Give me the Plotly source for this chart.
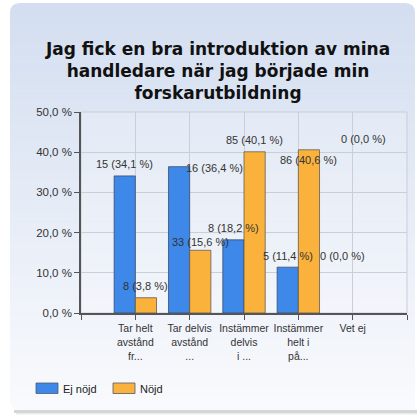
import plotly.graph_objects as go

# ---- data ----
categories = ["Tar helt<br>avstånd<br>fr...", "Tar delvis<br>avstånd<br>...",
              "Instämmer<br>delvis<br>i ...", "Instämmer<br>helt i<br>på...", "Vet ej"]
series_names = ["Ej nöjd", "Nöjd"]
ej_counts = [15, 16, 8, 5, 0]
ej_pct = [34.1, 36.4, 18.2, 11.4, 0.0]
nojd_counts = [8, 33, 85, 86, 0]
nojd_pct = [3.8, 15.6, 40.1, 40.6, 0.0]
y_ticks = [0, 10, 20, 30, 40, 50]
y_tick_labels = ["0,0 %", "10,0 %", "20,0 %", "30,0 %", "40,0 %", "50,0 %"]
title_text = "Jag fick en bra introduktion av mina<br>handledare när jag började min<br>forskarutbildning"

# ---- style ----
W, H = 417, 417
ML, MR, MT, MB = 81, 10, 112, 104
BLUE, ORANGE = "#3d88e9", "#fbb23c"
label_dx = [[0, 35, 0, 0, 0], [0, 0, 0, 0, 0]]
label_dy = [[12, -1, 12, 11, 57], [12, 8, 12, -10, 174]]
bar_off = 10.6

x_idx = list(range(len(categories)))


def px(x):
    return (x - ML) / (W - ML - MR)


def py(y):
    return (H - MB - y) / (H - MT - MB)


def fmt(n, p):
    return f"{n} ({p:.1f} %)".replace(".", ",")


fig = go.Figure()
fig.add_trace(go.Bar(x=x_idx, y=ej_pct, name=series_names[0], marker_color=BLUE,
                     marker_line=dict(color="rgba(55,70,100,0.75)",
                                      width=[1 if v > 0 else 0 for v in ej_pct]),
                     showlegend=False, hoverinfo="skip"))
fig.add_trace(go.Bar(x=x_idx, y=nojd_pct, name=series_names[1], marker_color=ORANGE,
                     marker_line=dict(color="rgba(90,85,80,0.75)",
                                      width=[1 if v > 0 else 0 for v in nojd_pct]),
                     showlegend=False, hoverinfo="skip"))

shapes = []
# gradient card background
top, bot, left, right = 3, 410, 10, 415
c0 = (211, 222, 240)
c1 = (249, 250, 253)
n = 70
for i in range(n):
    y0 = top + (bot - top) * i / n
    y1 = top + (bot - top) * (i + 1) / n + 0.6
    t = i / (n - 1)
    col = tuple(int(round(c0[k] + (c1[k] - c0[k]) * t)) for k in range(3))
    shapes.append(dict(type="rect", xref="paper", yref="paper", x0=px(left), x1=px(right),
                       y0=py(min(y1, bot)), y1=py(y0), fillcolor="rgb(%d,%d,%d)" % col,
                       line_width=0, layer="below"))
# shadow under the card
shapes.append(dict(type="rect", xref="paper", yref="paper", x0=px(left + 4), x1=px(417),
                   y0=py(413), y1=py(410), fillcolor="#d6d6d6", line_width=0, layer="below"))
shapes.append(dict(type="rect", xref="paper", yref="paper", x0=px(left + 6), x1=px(417),
                   y0=py(414.5), y1=py(413), fillcolor="#ebebeb", line_width=0, layer="below"))
# rounded corner masks
r = 10


def corner(cx, cy, sx, sy):
    p = f"M{px(cx)},{py(cy)} L{px(cx + sx * r)},{py(cy)} Q{px(cx)},{py(cy)} {px(cx)},{py(cy + sy * r)} Z"
    return dict(type="path", xref="paper", yref="paper", path=p, fillcolor="white",
                line_width=0, layer="below")


shapes.append(corner(left, top, 1, 1))
shapes.append(corner(right, top, -1, 1))
shapes.append(corner(left, bot, 1, -1))
# plot area lighter overlay
shapes.append(dict(type="rect", xref="paper", yref="paper", x0=0, x1=1, y0=0, y1=1,
                   fillcolor="rgba(255,255,255,0.18)", line=dict(color="#c9ced8", width=1),
                   layer="below"))
# legend swatches
legend_x = [36, 113]
for k, col in enumerate([BLUE, ORANGE]):
    shapes.append(dict(type="rect", xref="paper", yref="paper", x0=px(legend_x[k]),
                       x1=px(legend_x[k] + 22), y0=py(393.5), y1=py(383), fillcolor=col,
                       line=dict(color="rgba(80,90,110,0.8)", width=1)))

annotations = []
for s, (cnts, pcts) in enumerate([(ej_counts, ej_pct), (nojd_counts, nojd_pct)]):
    sign = -1 if s == 0 else 1
    for i in x_idx:
        annotations.append(dict(x=i, y=pcts[i], xref="x", yref="y", text=fmt(cnts[i], pcts[i]),
                                showarrow=False, xshift=sign * bar_off + label_dx[s][i],
                                yshift=label_dy[s][i], yanchor="middle",
                                font=dict(family="Liberation Sans, Arial", size=11, color="#333")))
for k, name in enumerate(series_names):
    annotations.append(dict(x=px(legend_x[k] + 25), y=py(388.5), xref="paper", yref="paper",
                            text=name, showarrow=False, xanchor="left", yanchor="middle",
                            font=dict(family="Liberation Sans, Arial", size=11, color="#222")))

fig.update_layout(
    width=W, height=H,
    margin=dict(l=ML, r=MR, t=MT, b=MB, pad=0),
    paper_bgcolor="white", plot_bgcolor="rgba(0,0,0,0)",
    barmode="group", bargap=0.22, bargroupgap=0,
    hovermode=False,
    title=dict(text=title_text, x=218 / W, xanchor="center", y=1 - 55 / H, yanchor="middle",
               font=dict(family="DejaVu Sans", size=17, color="#111", weight="bold")),
    shapes=shapes, annotations=annotations,
    showlegend=False,
    xaxis=dict(range=[-1, 5], tickmode="array", tickvals=[-1] + x_idx + [5],
               ticktext=[""] + categories + [""], showgrid=True, gridcolor="#c9ced8",
               showline=True, linecolor="#555", linewidth=1.5, ticks="outside", ticklen=5,
               tickcolor="#555", zeroline=False, fixedrange=True,
               tickfont=dict(family="Liberation Sans, Arial", size=10.5, color="#333")),
    yaxis=dict(range=[0, 50], tickmode="array", tickvals=y_ticks, ticktext=y_tick_labels,
               showgrid=True, gridcolor="#c9ced8", showline=True,
               linecolor="#555", linewidth=1.5, ticks="outside", ticklen=5, tickcolor="#555",
               zeroline=False, fixedrange=True,
               tickfont=dict(family="Liberation Sans, Arial", size=11.5, color="#333")),
)

fig.write_html("out.html", config={"displayModeBar": False},
               post_script="document.body.style.margin='0';")
